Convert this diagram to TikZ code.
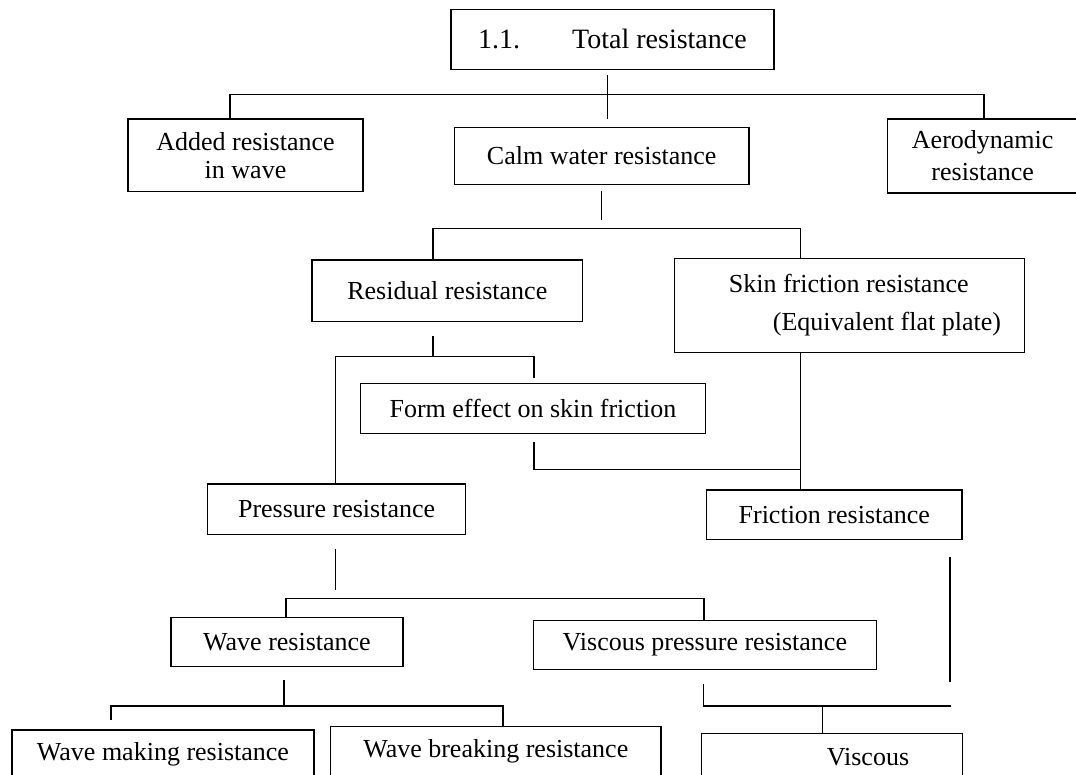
\documentclass[tikz,border=0pt]{standalone}
\usepackage{fontspec}
\setmainfont{Liberation Serif}
\usepackage{tikz}

\begin{document}
\begin{tikzpicture}[x=0.5pt,y=-0.5pt,
  box/.style={draw,inner sep=0pt,align=center,font=\fontsize{13}{14}\selectfont},
  line width=0.7pt]
\clip (0,0) rectangle (1076,775);
\fill[white] (0,0) rectangle (1076,775);
\node[box,minimum width=161.5pt,minimum height=30pt,font=\fontsize{14}{16}\selectfont] (total) at (612.5,39.3) {1.1.\hspace{26pt}Total resistance};
\node[box,minimum width=117.5pt,minimum height=36.4pt] (added) at (245.5,155.3) {Added resistance\\in wave};
\node[box,minimum width=147.3pt,minimum height=28.3pt] (calm) at (601.7,156) {Calm water resistance};
\node[box,minimum width=95.5pt,minimum height=37pt,font=\fontsize{13}{16}\selectfont] (aero) at (982.7,156) {Aerodynamic\\resistance};
\node[box,minimum width=135.3pt,minimum height=30.9pt] (residual) at (447.3,290.8) {Residual resistance};
\node[box,minimum width=174.8pt,minimum height=47pt,align=left,font=\fontsize{13}{19.2}\selectfont] (skin) at (849.5,305.3) {\hspace*{15.4pt}Skin friction resistance\\\hspace*{37.4pt}(Equivalent flat plate)};
\node[box,minimum width=172.5pt,minimum height=25pt] (form) at (533,408.3) {Form effect on skin friction};
\node[box,minimum width=129pt,minimum height=25.4pt] (pressure) at (336.6,509.3) {Pressure resistance};
\node[box,minimum width=127.8pt,minimum height=24.7pt] (friction) at (834.3,514.7) {Friction resistance};
\node[box,minimum width=116pt,minimum height=24.7pt] (wave) at (287,642) {Wave resistance};
\node[box,minimum width=171.3pt,minimum height=24.3pt] (visp) at (704.9,645) {Viscous pressure resistance};
\node[box,minimum width=151pt,minimum height=24pt] (wmake) at (163,754) {Wave making resistance};
\node[box,minimum width=165.2pt,minimum height=25pt] (wbreak) at (495.8,751.7) {Wave breaking resistance};
\node[box,minimum width=130.4pt,minimum height=23.4pt] (viscous) at (832,756.7) {\hspace*{36pt}Viscous};

\coordinate (t1) at (607.6,75.3);
\coordinate (t2) at (607.6,119.3);
\coordinate (b1l) at (230,94.3);
\coordinate (b1r) at (984,94.3);
\draw (b1l |- added.north) -- (b1l) -- (b1r) -- (b1r |- aero.north);
\draw (t1) -- (t2);

\coordinate (c1) at (601.4,191);
\coordinate (c2) at (601.4,220);
\coordinate (b2l) at (433,228.3);
\coordinate (b2r) at (800.5,228.3);
\draw (c1) -- (c2);
\draw (b2l |- residual.north) -- (b2l) -- (b2r) -- (b2r |- skin.north);

\coordinate (r1) at (433,336);
\coordinate (b3l) at (335.7,356.7);
\coordinate (b3r) at (533.8,356.7);
\coordinate (f1) at (533.8,378.3);
\draw (r1) -- (r1 |- b3l);
\draw (b3l |- pressure.north) -- (b3l) -- (b3r) -- (f1);
\draw (b2r |- skin.south) -- (b2r |- friction.north);
\coordinate (f2) at (534,441.7);
\coordinate (f3) at (800.5,469.3);
\draw (f2) |- (f3);

\coordinate (p1) at (335.7,549.3);
\coordinate (p2) at (335.7,590);
\coordinate (b4l) at (285.8,598.3);
\coordinate (b4r) at (704,598.3);
\draw (p1) -- (p2);
\draw (b4l |- wave.north) -- (b4l) -- (b4r) -- (b4r |- visp.north);
\coordinate (fr1) at (950,556.7);
\coordinate (fr2) at (950,681.7);
\draw (fr1) -- (fr2);

\coordinate (w1) at (284,680);
\coordinate (b5l) at (110.9,706);
\coordinate (b5r) at (502.8,706);
\coordinate (wm1) at (110.9,720);
\draw (w1) -- (w1 |- b5l);
\draw (wm1) -- (b5l) -- (b5r) -- (b5r |- wbreak.north);
\coordinate (v1) at (703.7,684.3);
\coordinate (v2) at (951,706);
\coordinate (v3) at (822.5,706);
\draw (v1) |- (v2);
\draw (v3) -- (v3 |- viscous.north);
\end{tikzpicture}
\end{document}
